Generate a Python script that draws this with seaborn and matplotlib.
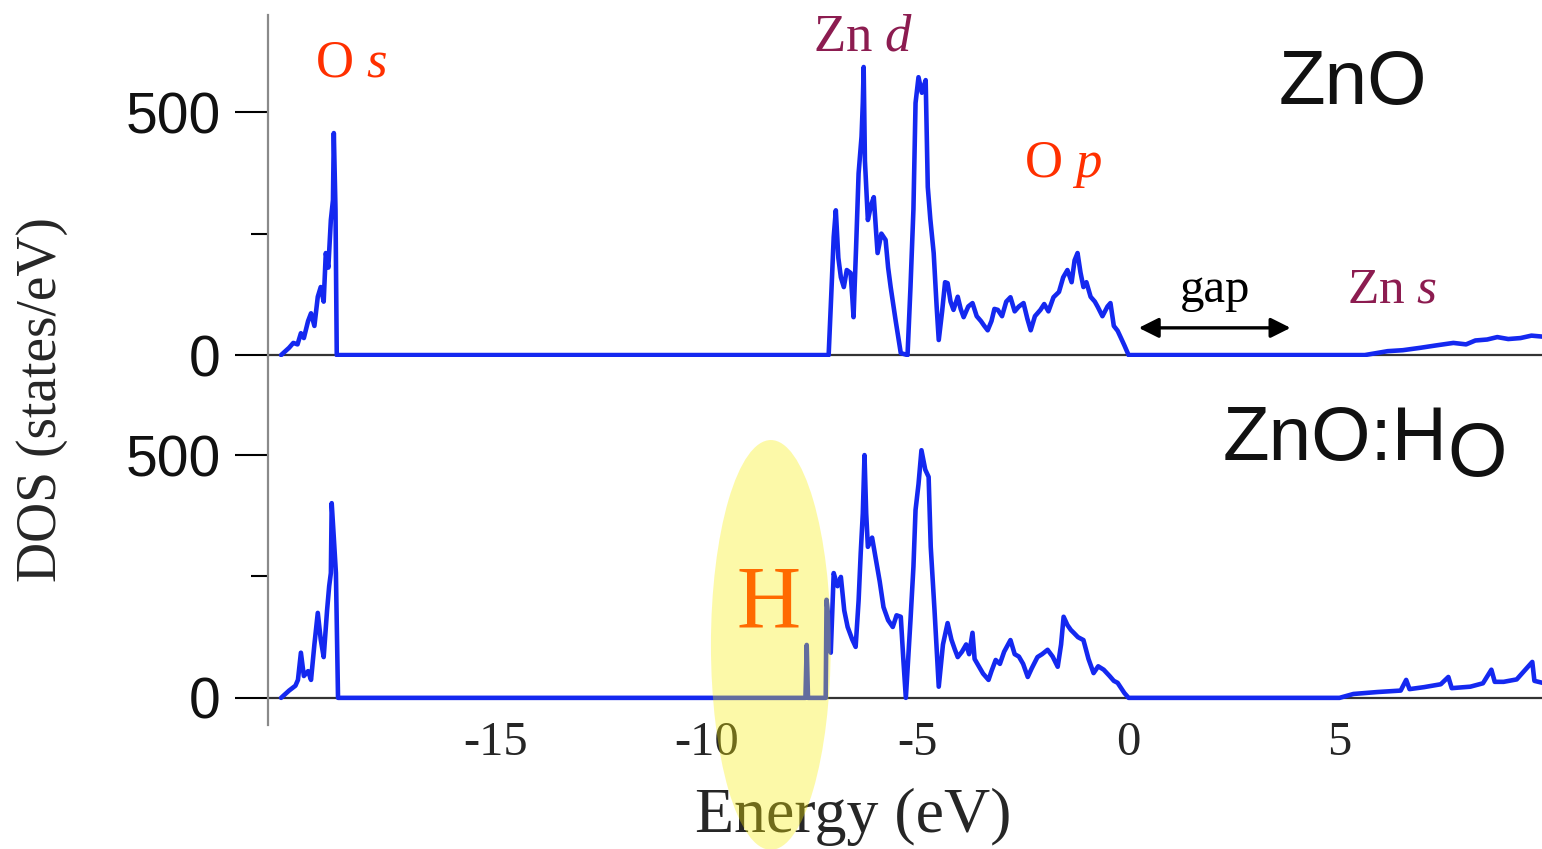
import matplotlib
matplotlib.use("Agg")
import matplotlib.pyplot as plt
from matplotlib.patches import Ellipse
import seaborn as sns

# Energies (eV) and DOS (states/eV)
zno_energy = [-20.09, -19.90, -19.80, -19.70, -19.62, -19.55, -19.45, -19.38, -19.30, -19.22,
              -19.15, -19.08, -19.03, -18.97, -18.91, -18.86, -18.84, -18.80, -18.77,
              -7.11, -7.05, -6.99, -6.94, -6.88, -6.82, -6.75, -6.68, -6.59, -6.55, -6.52,
              -6.46, -6.40, -6.33, -6.30, -6.28, -6.25, -6.21, -6.18, -6.10, -6.04, -5.99,
              -5.95, -5.86, -5.76, -5.70, -5.64, -5.52, -5.40, -5.24, -5.17, -5.10, -5.05,
              -4.98, -4.90, -4.81, -4.76, -4.70, -4.62, -4.55, -4.50, -4.42, -4.35, -4.29,
              -4.22, -4.15, -4.05, -3.98, -3.91, -3.80, -3.70, -3.60, -3.50, -3.42, -3.34,
              -3.25, -3.18, -3.10, -3.00, -2.90, -2.80, -2.70, -2.60, -2.49, -2.40, -2.32,
              -2.22, -2.09, -2.00, -1.90, -1.78, -1.65, -1.55, -1.45, -1.35, -1.28, -1.21,
              -1.14, -1.07, -1.00, -0.90, -0.80, -0.73, -0.62, -0.50, -0.43, -0.35, -0.26,
              -0.19, -0.10, 0.00, 5.60, 6.14, 6.50, 6.92, 7.30, 7.70, 8.00, 8.22,
              8.50, 8.74, 9.00, 9.29, 9.55, 9.81]
zno_dos = [0, 15, 25, 22, 45, 35, 70, 86, 60, 120,
           140, 110, 210, 180, 278, 319, 457, 300, 0,
           0, 120, 243, 298, 200, 160, 140, 175, 169, 120, 78,
           220, 374, 450, 520, 593, 400, 330, 278, 310, 325, 260,
           210, 250, 237, 180, 140, 70, 4, 0, 140, 300, 519,
           572, 540, 566, 346, 280, 210, 100, 31, 90, 150, 148,
           110, 93, 120, 95, 78, 100, 107, 80, 70, 60, 51,
           70, 95, 93, 80, 110, 119, 90, 100, 107, 75, 51,
           80, 93, 105, 90, 119, 130, 160, 175, 150, 195, 210,
           170, 140, 150, 120, 110, 99, 80, 100, 107, 60, 50,
           37, 20, 0, 0, 8, 10, 15, 20, 25, 22, 30,
           32, 37, 33, 35, 40, 38]

znoh_energy = [-20.09, -19.90, -19.75, -19.69, -19.62, -19.55, -19.45, -19.38, -19.30, -19.22,
               -19.15, -19.08, -19.00, -18.95, -18.91, -18.89, -18.84, -18.79, -18.74,
               -7.66, -7.63, -7.60, -7.18, -7.16, -7.10, -7.06, -6.99, -6.90, -6.82, -6.74,
               -6.66, -6.55, -6.47, -6.40, -6.35, -6.30, -6.26, -6.22, -6.18, -6.08, -6.00,
               -5.90, -5.81, -5.70, -5.59, -5.50, -5.40, -5.34, -5.28, -5.17, -5.10, -5.05,
               -4.98, -4.91, -4.82, -4.74, -4.69, -4.60, -4.50, -4.40, -4.29, -4.20, -4.12,
               -4.05, -3.95, -3.85, -3.78, -3.70, -3.65, -3.55, -3.45, -3.32, -3.25, -3.15,
               -3.05, -2.95, -2.80, -2.70, -2.60, -2.50, -2.39, -2.30, -2.16, -2.05, -1.92,
               -1.80, -1.68, -1.60, -1.54, -1.45, -1.37, -1.30, -1.20, -1.07, -0.95, -0.83,
               -0.72, -0.59, -0.45, -0.35, -0.26, -0.10, 0.00, 5.00, 5.33, 5.90, 6.45,
               6.58, 6.66, 7.00, 7.40, 7.58, 7.66, 8.10, 8.40, 8.60, 8.68, 8.89, 9.20,
               9.57, 9.62, 9.81]
znoh_dos = [0, 15, 25, 37, 93, 45, 55, 37, 110, 175,
            120, 84, 180, 230, 257, 401, 330, 257, 0,
            0, 109, 0, 0, 202, 150, 93, 257, 230, 249, 180,
            146, 120, 105, 200, 298, 380, 500, 380, 311, 330, 290,
            240, 187, 160, 146, 170, 167, 80, 0, 160, 270, 387,
            440, 510, 470, 455, 311, 180, 23, 110, 154, 120, 100,
            84, 95, 110, 90, 134, 80, 65, 50, 37, 55, 78,
            70, 95, 119, 90, 85, 70, 43, 60, 84, 90, 99,
            85, 64, 110, 167, 150, 140, 134, 125, 119, 80, 51,
            65, 58, 45, 35, 31, 10, 0, 0, 8, 12, 15,
            37, 18, 22, 28, 43, 20, 23, 30, 58, 33, 33, 38,
            74, 35, 31]

x_ticks = [-15, -10, -5, 0, 5]
y_major = [0, 500]
y_minor = [250]

line_color = "#1428f0"
red = "#ff3000"
maroon = "#8c1c50"

sns.set_style("white")
plt.rcParams["font.family"] = ["Liberation Serif", "DejaVu Serif"]
plt.rcParams["mathtext.fontset"] = "custom"
plt.rcParams["mathtext.rm"] = "Liberation Serif"
plt.rcParams["mathtext.it"] = "Liberation Serif:italic"

fig = plt.figure(figsize=(15.42, 8.49), dpi=100)
ax1 = fig.add_axes([0.1738, 0.5795, 0.8262, 0.4028])
ax2 = fig.add_axes([0.1738, 0.146, 0.8262, 0.4335])

for ax, e, d, ylim in [(ax1, zno_energy, zno_dos, (-4, 700)),
                       (ax2, znoh_energy, znoh_dos, (-56, 702))]:
    ax.axhline(0, color="#333333", lw=1.6, zorder=1)
    sns.lineplot(x=e, y=d, ax=ax, color=line_color, lw=3.3,
                 estimator=None, sort=False, zorder=2)
    ax.set_xlim(-20.4, 9.8)
    ax.set_ylim(*ylim)
    for s in ["top", "right", "bottom"]:
        ax.spines[s].set_visible(False)
    ax.spines["left"].set_color("#8a8a8a")
    ax.spines["left"].set_linewidth(1.6)
    ax.set_yticks(y_major)
    ax.set_yticks(y_minor, minor=True)
    ax.tick_params(axis="y", which="major", length=24, width=1.5, color="black",
                   pad=10, labelsize=41, left=True)
    ax.tick_params(axis="y", which="minor", length=12, width=1.5, color="black", left=True)
    for lab in ax.get_yticklabels():
        lab.set_fontfamily("Liberation Sans")
        lab.set_color("#111111")
    ax.set_xlabel("")
    ax.set_ylabel("")

ax1.set_xticks([])
ax2.set_xticks(x_ticks)
ax2.set_xticklabels([str(t) for t in x_ticks])
ax2.tick_params(axis="x", length=0, pad=-3, labelsize=35)

ax2.set_xlabel("Energy (eV)", fontsize=46)
ax2.xaxis.set_label_coords(0.459, -0.17)
fig.text(42 / 1542, 1 - 400 / 849, "DOS (states/eV)", rotation=90,
         ha="center", va="center", fontsize=40)

# annotations, top panel
ax1.text(-18.44, 601, r"O $\mathit{s}$", color=red, fontsize=38, ha="center", va="center")
ax1.text(-6.30, 654, r"Zn $\mathit{d}$", color=maroon, fontsize=38, ha="center", va="center")
ax1.text(-1.56, 391, r"O $\mathit{p}$", color=red, fontsize=38, ha="center", va="center")
ax1.text(6.26, 134, r"Zn $\mathit{s}$", color=maroon, fontsize=37, ha="center", va="center")
ax1.text(2.06, 134, "gap", color="black", fontsize=35, ha="center", va="center")
ax1.annotate("", xy=(3.84, 56), xytext=(0.24, 56),
             arrowprops=dict(arrowstyle="<|-|>", color="black", lw=2.4,
                             mutation_scale=30, shrinkA=0, shrinkB=0))
ax1.text(5.31, 556, "ZnO", fontfamily="Liberation Sans", fontsize=55,
         ha="center", va="center", color="#111111")

# annotations, bottom panel
t = ax2.text(2.23, 531, "ZnO:H", fontfamily="Liberation Sans", fontsize=55,
             ha="left", va="center", color="#111111")
ax2.annotate("O", xy=(1, 0), xycoords=t, xytext=(0, -12), textcoords="offset points",
             fontfamily="Liberation Sans", fontsize=55, ha="left", va="bottom",
             color="#111111")
ell = Ellipse((-8.48, 109), width=2.84, height=844, facecolor="#f9ee06",
              edgecolor="none", alpha=0.35, clip_on=False, zorder=5)
ax2.add_patch(ell)
ax2.text(-8.53, 191, "H", color="#ff6a00", fontsize=64, ha="center", va="center", zorder=6)

fig.savefig("out.png", dpi=100)
